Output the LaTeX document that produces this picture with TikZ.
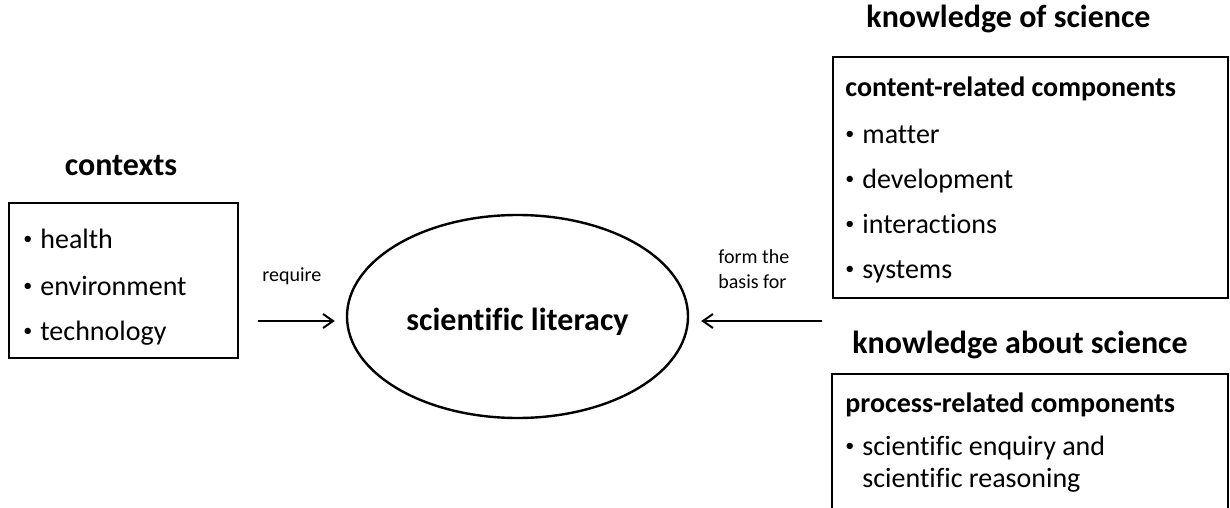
\documentclass[tikz,border=0pt]{standalone}
\usepackage{fontspec}
\setmainfont{Carlito}[Ligatures=NoCommon]
\usetikzlibrary{shapes.geometric,arrows.meta}
\newcommand\bul{\makebox[8.5pt][l]{\raisebox{1.6pt}{\fontsize{9pt}{9pt}\selectfont•}}}

\begin{document}
\begin{tikzpicture}[x=0.5pt,y=-0.5pt,
  title/.style={font=\fontsize{16pt}{19pt}\selectfont\bfseries,anchor=base,inner sep=0pt},
  item/.style={font=\fontsize{14pt}{17pt}\selectfont,anchor=base west,inner sep=0pt},
  small/.style={font=\fontsize{10pt}{12pt}\selectfont,anchor=base west,inner sep=0pt},
  frame/.style={draw,line width=1pt,inner sep=0pt},
  arr/.style={line width=1pt,-{Straight Barb[length=5pt,width=7pt]}}]
\useasboundingbox (0,0) rectangle (1230,508);

% left: contexts
\node[title](T1) at (121,175){contexts};
\node[frame,minimum width=114.5pt,minimum height=77.5pt](B1) at (123.5,280.5){};
\node[item](H) at (23,248){\bul health};
\node[item](En) at (23,295){\bul environment};
\node[item](Te) at (23,340){\bul technology};

% middle
\node[draw,ellipse,line width=1.2pt,minimum width=170.5pt,minimum height=101.5pt,inner sep=0pt](E) at (517.5,316.5){};
\node[title](SL) at (517.5,330){scientific literacy};

\coordinate (A) at (258,321);
\coordinate (R) at (822,321);
\draw[arr,shorten >=5.5pt] (A) -- (A -| E.west);
\draw[arr,shorten >=6pt] (R) -- (R -| E.east);

\node[small](Rq) at (262,281){require};
\node[small](F1) at (718,263){form the};
\node[small](F2) at (718,288){basis for};

% right: knowledge of science
\node[title](T2) at (1008.5,28){knowledge of science};
\node[frame,minimum width=197.5pt,minimum height=120.5pt](B2) at (1030.5,177.5){};
\node[item,font=\fontsize{14pt}{17pt}\selectfont\bfseries](C) at (845,97){content-related components};
\node[item](M1) at (845,143){\bul matter};
\node[item](M2) at (845,188){\bul development};
\node[item](M3) at (845,233){\bul interactions};
\node[item](M4) at (845,278){\bul systems};

% right: knowledge about science
\node[title](T3) at (1020,353){knowledge about science};
\draw[line width=1pt] (832,510) -- (832,374) -- (1228,374) -- (1228,510);
\node[item,font=\fontsize{14pt}{17pt}\selectfont\bfseries](P) at (845,412){process-related components};
\node[item](P1) at (845,455){\bul scientific enquiry and};
\node[item](P2) at (845,487){\hspace{8.5pt}scientific reasoning};

\end{tikzpicture}
\end{document}
